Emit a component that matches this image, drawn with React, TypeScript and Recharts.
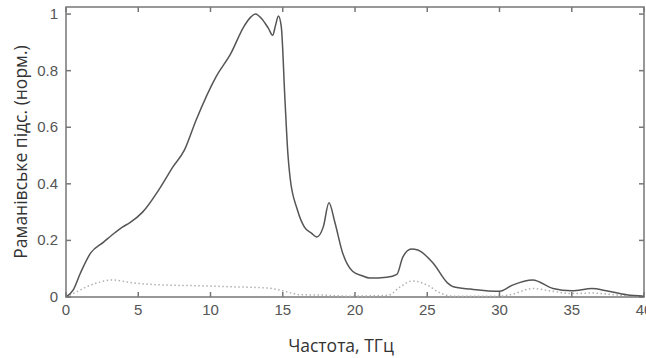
import React from 'react';
import { LineChart, Line, XAxis, YAxis, ReferenceArea, ReferenceLine } from 'recharts';

const xMain = [0, 0.5, 1.0, 1.7, 2.6, 3.4, 3.9, 4.4, 5.3, 6.5, 7.4, 8.2, 9.0, 10.4, 11.4, 12.3, 12.8, 13.1, 13.6, 14.0, 14.3, 14.5, 14.7, 14.9, 15.15, 15.35, 15.5, 16.0, 16.5, 17.0, 17.35, 17.8, 18.2, 18.6, 19.15, 19.85, 20.5, 21.0, 22.2, 22.9, 23.3, 23.9, 24.35, 25.4, 26.4, 26.8, 28, 30, 30.9, 32.3, 33.7, 35, 36.4, 37.4, 38.8, 40];
const yMain = [0, 0.025, 0.085, 0.155, 0.194, 0.228, 0.247, 0.262, 0.30, 0.385, 0.46, 0.52, 0.625, 0.78, 0.86, 0.955, 0.99, 1.0, 0.98, 0.95, 0.925, 0.96, 0.993, 0.955, 0.70, 0.51, 0.425, 0.31, 0.247, 0.225, 0.212, 0.247, 0.333, 0.265, 0.155, 0.09, 0.075, 0.067, 0.07, 0.08, 0.14, 0.17, 0.166, 0.12, 0.05, 0.036, 0.028, 0.02, 0.042, 0.06, 0.03, 0.022, 0.03, 0.022, 0.008, 0.003];

const xDot = [0, 0.8, 1.7, 2.5, 3.25, 4.6, 7, 9, 11.5, 13.9, 15, 15.6, 16.2, 17.6, 19.5, 22.3, 23.1, 24, 25, 25.9, 26.8, 30, 30.9, 32.3, 33.7, 35, 36.4, 38.2, 40];
const yDot = [0, 0.02, 0.042, 0.055, 0.06, 0.05, 0.042, 0.04, 0.036, 0.032, 0.022, 0.014, 0.008, 0.007, 0.003, 0.006, 0.035, 0.057, 0.042, 0.014, 0.003, 0.003, 0.01, 0.03, 0.02, 0.012, 0.014, 0.007, 0.003];

const xTicks = [0, 5, 10, 15, 20, 25, 30, 35, 40];
const yTicks = [0, 0.2, 0.4, 0.6, 0.8, 1];

const xTitle = 'Частота, ТГц';
const yTitle = 'Раманівське підс. (норм.)';

const X_MAX = 40;
const Y_MAX = 1.025;

const mainData = xMain.map((x, i) => ({ x, y: yMain[i] }));
const dotData = xDot.map((x, i) => ({ x, y: yDot[i] }));

const axisColor = '#777';
const TICK_LEN = 5;
const tickTextProps = { fontSize: 15, fill: '#555', fontFamily: 'Liberation Sans, Arial, sans-serif' };
const titleStyle = { fontSize: 17.5, fill: '#333', fontFamily: 'Open Sans, sans-serif' };

const BOTTOM_MARGIN = 18;
const LEFT_MARGIN = 8;

function BottomTick(props: any) {
  const { x, y, payload } = props;
  const axisY = y - BOTTOM_MARGIN;
  return (
    <g>
      <line x1={x} x2={x} y1={axisY} y2={axisY - TICK_LEN} stroke={axisColor} strokeWidth={1.5} />
      <text x={x} y={y} textAnchor="middle" {...tickTextProps}>
        {String(payload.value)}
      </text>
    </g>
  );
}

function LeftTick(props: any) {
  const { x, y, payload } = props;
  const axisX = x + LEFT_MARGIN;
  return (
    <g>
      <line x1={axisX} x2={axisX + TICK_LEN} y1={y} y2={y} stroke={axisColor} strokeWidth={1.5} />
      <text x={x} y={y + 5} textAnchor="end" {...tickTextProps}>
        {String(payload.value)}
      </text>
    </g>
  );
}

// tick lengths in data units (~5px): plot is ~578px wide for 40, ~290px high for 1.025
const TOP_TICK_DY = Y_MAX * 5 / 290;
const RIGHT_TICK_DX = X_MAX * 5 / 578;

export default function App() {
  return (
    <div style={{ position: 'absolute', left: 0, top: 0, width: 646, height: 358, background: '#fff' }}>
      <LineChart width={646} height={358} margin={{ top: 7, right: 2, bottom: 0, left: 0 }}>
        <XAxis
          xAxisId="b"
          dataKey="x"
          type="number"
          domain={[0, X_MAX]}
          ticks={xTicks}
          interval={0}
          allowDataOverflow
          height={61}
          tickSize={0}
          tickMargin={BOTTOM_MARGIN}
          tick={BottomTick}
          axisLine={false}
          tickLine={false}
          label={{ value: xTitle, position: 'center', dx: -14, dy: 18, style: titleStyle }}
        />
        <YAxis
          yAxisId="l"
          type="number"
          domain={[0, Y_MAX]}
          ticks={yTicks}
          interval={0}
          allowDataOverflow
          width={66}
          tickSize={0}
          tickMargin={LEFT_MARGIN}
          tick={LeftTick}
          axisLine={false}
          tickLine={false}
          label={{ value: yTitle, angle: -90, position: 'center', dx: -12, style: titleStyle }}
        />
        <ReferenceArea xAxisId="b" yAxisId="l" x1={0} x2={X_MAX} y1={0} y2={Y_MAX} fill="none" stroke={axisColor} strokeWidth={1.5} ifOverflow="visible" />
        {xTicks.map((t) => (
          <ReferenceLine
            key={'tt' + t}
            xAxisId="b"
            yAxisId="l"
            segment={[{ x: t, y: Y_MAX }, { x: t, y: Y_MAX - TOP_TICK_DY }]}
            stroke={axisColor}
            strokeWidth={1.5}
            ifOverflow="visible"
          />
        ))}
        {yTicks.map((t) => (
          <ReferenceLine
            key={'rt' + t}
            xAxisId="b"
            yAxisId="l"
            segment={[{ x: X_MAX, y: t }, { x: X_MAX - RIGHT_TICK_DX, y: t }]}
            stroke={axisColor}
            strokeWidth={1.5}
            ifOverflow="visible"
          />
        ))}
        <Line
          xAxisId="b"
          yAxisId="l"
          data={dotData}
          dataKey="y"
          type="monotone"
          stroke="#b0b0b0"
          strokeWidth={1.5}
          strokeDasharray="1.5 2.5"
          dot={false}
          isAnimationActive={false}
        />
        <Line
          xAxisId="b"
          yAxisId="l"
          data={mainData}
          dataKey="y"
          type="monotone"
          stroke="#555"
          strokeWidth={1.5}
          dot={false}
          isAnimationActive={false}
        />
      </LineChart>
    </div>
  );
}
